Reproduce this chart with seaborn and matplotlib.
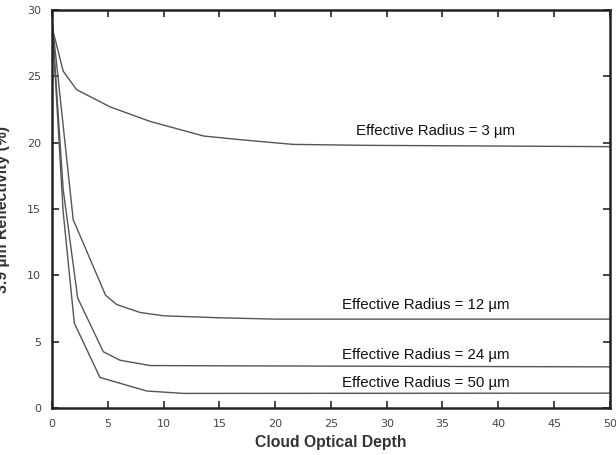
import numpy as np
import pandas as pd
import matplotlib
matplotlib.use("Agg")
import matplotlib.pyplot as plt
import seaborn as sns

# values
tau_3 = [0, 0.1, 1.0, 2.2, 5.2, 8.8, 13.6, 17.2, 21.6, 28, 50]
refl_3 = [29.2, 28.4, 25.4, 24.0, 22.7, 21.6, 20.5, 20.2, 19.87, 19.8, 19.7]

tau_12 = [0, 1.9, 4.8, 5.8, 7.9, 10, 15, 20, 50]
refl_12 = [29.2, 14.2, 8.5, 7.8, 7.2, 6.95, 6.8, 6.7, 6.7]

tau_24 = [0, 1, 2.3, 4.6, 6.1, 8.8, 15, 50]
refl_24 = [29.2, 16.5, 8.3, 4.24, 3.6, 3.2, 3.18, 3.1]

tau_50 = [0, 1, 2.0, 4.3, 8.5, 11.8, 50]
refl_50 = [29.2, 14.8, 6.4, 2.3, 1.28, 1.1, 1.12]

radii = ["3", "12", "24", "50"]
label_x = [34.4, 33.5, 33.5, 33.5]
label_y = [20.35, 7.2, 3.5, 1.35]

frames = []
for r, t, v in zip(radii, [tau_3, tau_12, tau_24, tau_50],
                   [refl_3, refl_12, refl_24, refl_50]):
    frames.append(pd.DataFrame({"tau": t, "refl": v, "radius": r}))
df = pd.concat(frames, ignore_index=True)

sns.set_style("ticks")
plt.rcParams["font.family"] = ["Liberation Sans", "DejaVu Sans"]

fig = plt.figure(figsize=(6.16, 4.55), dpi=100)
ax = fig.add_axes([0.0844, 0.1033, 0.9056, 0.8747])

sns.lineplot(data=df, x="tau", y="refl", units="radius", estimator=None,
             color="#555555", linewidth=1.0, sort=False, ax=ax)

for r, lx, ly in zip(radii, label_x, label_y):
    ax.text(lx, ly, f"Effective Radius = {r} µm", ha="center", va="bottom",
            fontsize=10.8, color="#111111")

ax.set_xlim(0, 50)
ax.set_ylim(0, 30)
ax.set_xticks(np.arange(0, 51, 5))
ax.set_yticks(np.arange(0, 31, 5))
ax.tick_params(direction="in", length=5, width=1.2, top=True, right=True,
               labelsize=8, labelcolor="#444444", pad=8)
for lab in ax.get_xticklabels() + ax.get_yticklabels():
    lab.set_family(["Liberation Sans Narrow", "DejaVu Sans"])
for s in ax.spines.values():
    s.set_linewidth(1.8)
    s.set_color("#222222")

ax.set_xlabel("Cloud Optical Depth", fontsize=11.3, fontweight="bold",
              color="#333333", labelpad=4)
ax.set_ylabel("3.9 µm Reflectivity (%)", fontsize=11.3, fontweight="bold",
              color="#333333", labelpad=12)

fig.savefig("out.png", dpi=100)
